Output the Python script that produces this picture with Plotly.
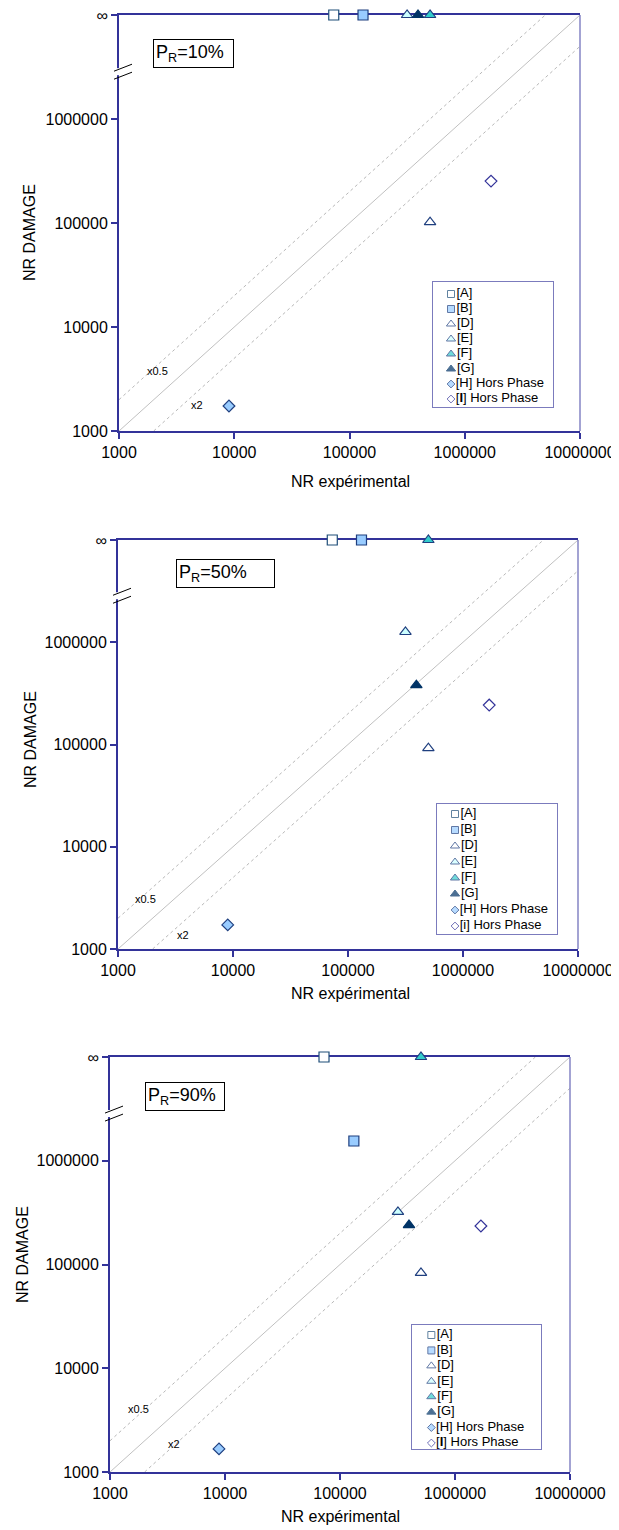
import math
import plotly.graph_objects as go

PAGE_W, PAGE_H = 619, 1530
BODY_MARGIN = 8  # default HTML body margin around the plot div
W, H = PAGE_W - BODY_MARGIN, PAGE_H - BODY_MARGIN
FONT = "Liberation Sans, Arial, Helvetica, sans-serif"
NAVY = "#333399"

# ---------------- data ----------------
INF = math.inf
series_names = ["[A]", "[B]", "[D]", "[E]", "[F]", "[G]", "[H] Hors Phase", "[<b>I</b>] Hors Phase"]
series_names_50 = ["[A]", "[B]", "[D]", "[E]", "[F]", "[G]", "[H] Hors Phase", "[i] Hors Phase"]

p10_exp = [73000, 131000, 500000, 316000, 500000, 393000, 9000, 1690000]
p10_dmg = [INF, INF, 102000, INF, INF, INF, 1740, 253000]

p50_exp = [73000, 131000, 500000, 316000, 500000, 393000, 9000, 1690000]
p50_dmg = [INF, INF, 92000, 1260000, INF, 380000, 1720, 243000]

p90_exp = [72600, 132000, 506000, 319000, 506000, 398000, 8870, 1680000]
p90_dmg = [INF, 1550000, 83000, 321000, INF, 240000, 1670, 235000]

panel_titles = ["P<sub>R</sub>=10%", "P<sub>R</sub>=50%", "P<sub>R</sub>=90%"]
tick_vals = [1e3, 1e4, 1e5, 1e6, 1e7]
x_tick_text = ["1000", "10000", "100000", "1000000", "10000000"]
y_tick_text = ["1000", "10000", "100000", "1000000", "∞"]
ratio_factors = [1, 2, 0.5]
ratio_labels = {2: "x0.5", 0.5: "x2"}

# ---------------- styles ----------------
symbols = ["square", "square", "triangle-up", "triangle-up", "triangle-up", "triangle-up", "diamond", "diamond"]
fills = ["#ffffff", "#99ccff", "#ffffff", "#ccffff", "#33cccc", "#003366", "#99ccff", "#ffffff"]
edges = ["#1f4e79", "#1f3f7f", "#1f3f7f", "#1f3f7f", "#1f3f7f", "#003366", "#1f3f7f", "#333399"]
data_sizes = [10, 10, 10, 10, 10, 10, 9, 9]
legend_sizes = [7, 7, 8, 8, 8, 8, 6, 6]

AX_LO, AX_HI = 3, 7  # log10 range; top of y-axis is labelled "∞"
Y_TOP = 10 ** AX_HI
BREAK_LOG = 6.45

# pixel geometry of each panel (page pixels): (left, right, top, bottom)
panels = [
    dict(box=(119, 580, 15, 431), exp=p10_exp, dmg=p10_dmg, names=series_names,
         title_box=(153, 39, 75), ytitle=(30, 233), xtitle=(350, 481),
         lbl05=(3.33, 3.58), lbl2=(3.68, 3.25),
         legend=(433, 553, 282, 407, 12, 8)),
    dict(box=(118, 578, 540, 949), exp=p50_exp, dmg=p50_dmg, names=series_names_50,
         title_box=(176, 559, 93), ytitle=(30, 740), xtitle=(350, 993),
         lbl05=(3.235, 3.49), lbl2=(3.565, 3.14),
         legend=(437, 557, 804, 934, 10, 8)),
    dict(box=(110, 570, 1057, 1472), exp=p90_exp, dmg=p90_dmg, names=series_names,
         title_box=(145, 1082, 74), ytitle=(22, 1255), xtitle=(340, 1516),
         lbl05=(3.25, 3.61), lbl2=(3.557, 3.27),
         legend=(412, 541, 1325, 1449, 10, 6)),
]


def px(x):
    return (x - BODY_MARGIN) / W


def py(y):
    return 1 - (y - BODY_MARGIN) / H


fig = go.Figure()
layout = dict(width=W, height=H, margin=dict(l=0, r=0, t=0, b=0, autoexpand=False),
              paper_bgcolor="white", plot_bgcolor="white", showlegend=False,
              font=dict(family=FONT, color="black"))
shapes, annotations = [], []

for i, p in enumerate(panels):
    n = i + 1
    sx = "" if n == 1 else str(n)
    xa, ya = "x" + sx, "y" + sx
    L, R, T, B = p["box"]

    layout["xaxis" + sx] = dict(
        type="log", range=[AX_LO, AX_HI], domain=[px(L), px(R)], anchor=ya,
        automargin=False, ticklabeloverflow="allow",
        tickvals=tick_vals, ticktext=x_tick_text, ticks="outside", ticklen=6,
        tickcolor=NAVY, tickwidth=1.5, showline=True, linecolor=NAVY, linewidth=2,
        mirror=True, showgrid=False, zeroline=False, layer="below traces",
        tickfont=dict(size=16, family=FONT, color="black"))
    layout["yaxis" + sx] = dict(
        type="log", range=[AX_LO, AX_HI], domain=[py(B), py(T)], anchor=xa,
        automargin=False, ticklabeloverflow="allow",
        tickvals=tick_vals, ticktext=y_tick_text, ticks="outside", ticklen=6,
        tickcolor=NAVY, tickwidth=1.5, showline=True, linecolor=NAVY, linewidth=2,
        mirror=False, showgrid=False, zeroline=False, layer="below traces",
        tickfont=dict(size=16, family=FONT, color="black"))

    # reference ratio lines
    lo, hi = 10 ** AX_LO, 10 ** AX_HI
    for f in ratio_factors:
        x0, x1 = max(lo, lo / f), min(hi, hi / f)
        fig.add_trace(go.Scatter(
            x=[x0, x1], y=[f * x0, f * x1], mode="lines", xaxis=xa, yaxis=ya,
            line=dict(color="#c0c0c0" if f == 1 else "#b8b8b8", width=1,
                      dash="solid" if f == 1 else "dot"),
            hoverinfo="skip"))
    for key, f in (("lbl05", 2), ("lbl2", 0.5)):
        annotations.append(dict(x=p[key][0], y=p[key][1], xref=xa, yref=ya,
                                xanchor="center", yanchor="middle",
                                text=ratio_labels[f], showarrow=False,
                                font=dict(size=11, family=FONT)))

    # data points
    for k in range(len(symbols)):
        yv = p["dmg"][k]
        yv = Y_TOP if math.isinf(yv) else yv
        fig.add_trace(go.Scatter(
            x=[p["exp"][k]], y=[yv], mode="markers", xaxis=xa, yaxis=ya,
            cliponaxis=False, name=p["names"][k],
            marker=dict(symbol=symbols[k], size=data_sizes[k], color=fills[k],
                        line=dict(color=edges[k], width=1.2))))

    # right border (lighter)
    shapes.append(dict(type="line", xref="paper", yref="paper",
                       x0=px(R), x1=px(R), y0=py(T), y1=py(B),
                       line=dict(color="#8585c4", width=1.5)))

    # axis break on y
    yb = T + (AX_HI - BREAK_LOG) / (AX_HI - AX_LO) * (B - T)
    shapes.append(dict(type="rect", xref="paper", yref="paper",
                       x0=px(L - 3), x1=px(L + 3), y0=py(yb + 3), y1=py(yb - 4),
                       line=dict(width=0), fillcolor="white", layer="above"))
    for off in (-4, 4):
        shapes.append(dict(type="line", xref="paper", yref="paper",
                           x0=px(L - 5), y0=py(yb + off + 3),
                           x1=px(L + 13), y1=py(yb + off - 4),
                           line=dict(color="black", width=1), layer="above"))

    # panel title box
    tx, ty, tw = p["title_box"]
    annotations.append(dict(x=px(tx), y=py(ty), xref="paper", yref="paper",
                            xanchor="left", yanchor="top", text=panel_titles[i],
                            showarrow=False, align="left", width=tw,
                            font=dict(size=18, family=FONT),
                            bordercolor="black", borderwidth=1, borderpad=2,
                            bgcolor="white"))
    # axis titles
    annotations.append(dict(x=px(p["ytitle"][0]), y=py(p["ytitle"][1]),
                            xref="paper", yref="paper", text="NR DAMAGE",
                            xanchor="center", yanchor="middle",
                            textangle=-90, showarrow=False,
                            font=dict(size=16, family=FONT)))
    annotations.append(dict(x=px(p["xtitle"][0]), y=py(p["xtitle"][1]),
                            xref="paper", yref="paper", text="NR expérimental",
                            xanchor="center", yanchor="middle",
                            showarrow=False, font=dict(size=16, family=FONT)))

    # legend box (drawn on its own small axis pair)
    lx0, lx1, ly0, ly1, ptop, pbot = p["legend"]
    nl = 3 + n
    lxa, lya = "x" + str(nl), "y" + str(nl)
    nitems = len(symbols)
    step = (ly1 - ly0 - ptop - pbot) / (nitems - 1)
    layout["xaxis" + str(nl)] = dict(domain=[px(lx0), px(lx1)], range=[0, 1], anchor=lya,
                                     automargin=False,
                                     showline=True, mirror=True, linecolor="#7b7bbd", linewidth=1,
                                     showticklabels=False, ticks="", showgrid=False,
                                     zeroline=False, fixedrange=True)
    layout["yaxis" + str(nl)] = dict(domain=[py(ly1), py(ly0)],
                                     range=[nitems - 1 + pbot / step, -ptop / step], anchor=lxa,
                                     automargin=False,
                                     showline=True, mirror=True, linecolor="#7b7bbd", linewidth=1,
                                     showticklabels=False, ticks="", showgrid=False,
                                     zeroline=False, fixedrange=True)
    fig.add_trace(go.Scatter(
        x=[0.15] * nitems, y=list(range(nitems)), xaxis=lxa, yaxis=lya,
        mode="markers+text", text=p["names"], textposition="middle right",
        textfont=dict(size=13, family=FONT, color="black"), cliponaxis=False,
        marker=dict(symbol=symbols, size=legend_sizes, color=fills,
                    line=dict(color=edges, width=1)),
        hoverinfo="skip"))

layout["shapes"] = shapes
layout["annotations"] = annotations
fig.update_layout(**layout)
fig.write_html("out.html")
